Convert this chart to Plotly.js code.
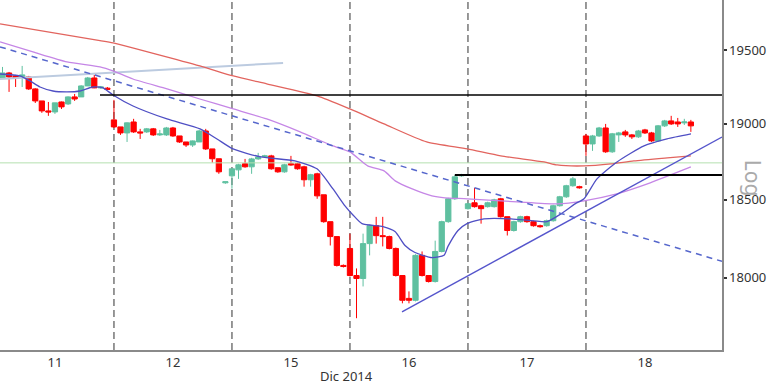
<!DOCTYPE html>
<html>
<head>
<meta charset="utf-8">
<script src="https://cdn.plot.ly/plotly-3.0.1.min.js"></script>
<style>html,body{margin:0;padding:0;background:#fff;}#chart{width:768px;height:384px;}</style>
</head>
<body>
<div id="chart"></div>
<script>
// ---- data (hourly bars, Dec 2014) ----
const openP = [
  19309,19343,19323,19316,19316,19235,19154,19087,19080,19147,19134,19181,19181,19255,19309,19242,19240,
  19027,18980,18940,19013,18947,18947,18967,18927,18927,18973,18920,18880,18860,18880,18953,18834,18769,18611,
  18657,18696,18736,18716,18768,18781,18788,18710,18683,18736,18736,18716,18631,18670,18533,18359,18263,18079,
  18187,18015,17996,18218,18333,18269,18263,18187,18015,17871,17859,18143,18015,17977,18168,18359,18507,18657,
  18443,18481,18462,18456,18456,18507,18391,18302,18359,18391,18359,18333,18333,18365,18462,18520,18592,18586,
  18920,18867,18920,18973,18815,18927,18947,18927,18914,18960,18940,18887,18987,19020,19013,19007,19013
];
const highP = [
  19384,19350,19330,19391,19323,19240,19154,19147,19141,19150,19185,19201,19260,19316,19330,19255,19248,
  19161,18980,19010,19034,18967,18973,18973,18960,18980,18980,18920,18880,18890,18960,18967,18834,18769,18618,
  18703,18736,18768,18775,18808,18795,18795,18710,18736,18788,18742,18723,18670,18677,18533,18359,18263,18085,
  18282,18060,18282,18340,18390,18390,18269,18193,18015,17915,18150,18168,18015,18237,18365,18513,18663,18670,
  18481,18578,18468,18488,18507,18513,18391,18365,18397,18397,18365,18340,18372,18468,18526,18598,18650,18592,
  18934,18927,18980,19000,18940,18947,18960,18933,18960,18967,18947,18993,19027,19054,19040,19034,19027
];
const lowP = [
  19302,19215,19248,19248,19228,19140,19074,19054,19067,19100,19127,19154,19181,19255,19240,19235,19228,
  18973,18927,18880,18940,18900,18940,18920,18920,18920,18914,18874,18847,18847,18880,18827,18743,18670,18605,
  18573,18637,18710,18670,18762,18775,18697,18677,18677,18723,18697,18586,18586,18507,18352,18206,18072,18066,
  18009,17747,17946,18143,18218,18200,18181,18009,17840,17840,17852,18009,17971,17971,18162,18352,18500,18650,
  18437,18450,18346,18450,18450,18385,18270,18295,18352,18352,18327,18320,18327,18359,18456,18513,18586,18573,
  18788,18821,18914,18808,18808,18880,18914,18900,18907,18933,18880,18880,18980,18993,18980,18993,18947
];
const closeP = [
  19343,19316,19309,19330,19235,19154,19087,19080,19141,19114,19181,19167,19255,19309,19242,19248,19232,
  18980,18940,19007,18947,18940,18967,18927,18933,18973,18920,18880,18860,18887,18953,18834,18769,18683,18618,
  18703,18729,18716,18768,18781,18788,18703,18683,18729,18729,18703,18631,18664,18526,18359,18263,18079,18072,
  18015,17996,18218,18333,18269,18263,18187,18015,17859,17859,18143,18015,17977,18168,18359,18507,18650,18663,
  18475,18456,18443,18481,18500,18391,18302,18359,18391,18359,18333,18327,18365,18462,18520,18592,18637,18579,
  18867,18920,18973,18815,18934,18940,18927,18914,18953,18940,18887,18987,19020,19000,19000,19013,18987
];

// day boundaries (bar index of each day's first bar) and labels
const dayStarts = [-1, 17, 35, 53, 71, 89];
const dayLabels = ['11', '12', '15', '16', '17', '18'];
const barsPerDay = 18;

// moving averages (bar index, price)
const slowMAx = [-0.38,14.87,16.86,30.1,35.2,40.3,48.0,53.0,58.2,64.7,70.9,76.0,82.6,84.6,88.7,92.8,96.3,101.4,105.0];
const slowMAy = [19679,19564,19548,19391,19323,19269,19188,19100,19000,18880,18834,18788,18748,18728,18722,18735,18755,18775,18788];
const midMAx = [-0.38,4.65,9.84,14.87,16.86,19.9,25.1,30.1,35.2,40.3,45.4,50.4,53.0,55.7,58.2,59.9,62.5,65.5,67.5,70.9,78.5,84.6,88.7,93.7,98.8,105.0];
const midMAy = [19555,19486,19418,19384,19357,19302,19235,19167,19100,19033,18947,18854,18814,18722,18689,18624,18571,18526,18513,18507,18487,18474,18494,18539,18611,18715];
const fastMAx = [-0.38,2.67,4.19,5.72,7.70,9.84,11.82,13.80,15.33,16.86,19.91,25.09,30.13,32.72,35.16,39.43,44.61,47.97,50.41,52.24,53.46,54.84,58.04,59.87,61.40,62.92,65.52,67.34,67.95,69.48,70.85,73.45,77.56,81.07,83.05,85.19,87.33,88.70,90.68,93.73,97.85,101.36,105.02];
const fastMAy = [19336,19323,19289,19248,19221,19215,19221,19248,19242,19194,19120,19033,18967,18900,18834,18781,18755,18703,18571,18461,18402,18346,18327,18295,18206,18161,18129,18143,18200,18302,18346,18377,18377,18364,18359,18409,18474,18507,18637,18748,18854,18900,18933];

// drawn levels / trend lines (bar index, price)
const xRange = [-0.381, 109.75];
const downTrendX = [-0.381, 109.75], downTrendY = [19521, 18105];
const upTrendX = [60.94, 109.75], upTrendY = [17787, 18913];
const greyLineX = [-0.381, 42.8], greyLineY = [19302, 19411];
const resist1X = [14.87, 109.75], resist1Y = [19194, 19194];
const resist2X = [69.0, 109.75], resist2Y = [18663, 18663];
const greenLevel = 18742;
const yTicks = [18000, 18500, 19000, 19500];

const idx = openP.map((_, i) => i);
const GREEN = '#5fc0a0', RED = '#ff0000';

const traces = [
  {type:'scatter', mode:'lines', x:xRange, y:[greenLevel, greenLevel], line:{color:'#b4e0b0', width:1}, hoverinfo:'skip'},
  {type:'scatter', mode:'lines', x:greyLineX, y:greyLineY, line:{color:'#bccbe0', width:2}, hoverinfo:'skip'},
  {type:'candlestick', x:idx, open:openP, high:highP, low:lowP, close:closeP, whiskerwidth:0,
   increasing:{line:{color:GREEN, width:1}, fillcolor:GREEN},
   decreasing:{line:{color:RED, width:1}, fillcolor:RED}, hoverinfo:'skip'},
  {type:'scatter', mode:'lines', x:slowMAx, y:slowMAy, line:{color:'#e2645e', width:1.3, shape:'spline', smoothing:0.6}, hoverinfo:'skip'},
  {type:'scatter', mode:'lines', x:midMAx, y:midMAy, line:{color:'#c586e6', width:1.3, shape:'spline', smoothing:0.6}, hoverinfo:'skip'},
  {type:'scatter', mode:'lines', x:fastMAx, y:fastMAy, line:{color:'#4f4fc4', width:1.3, shape:'spline', smoothing:0.6}, hoverinfo:'skip'},
  {type:'scatter', mode:'lines', x:downTrendX, y:downTrendY, line:{color:'#5566cc', width:1.5, dash:'6px,5px'}, hoverinfo:'skip'},
  {type:'scatter', mode:'lines', x:upTrendX, y:upTrendY, line:{color:'#5555cc', width:1.4}, hoverinfo:'skip'},
  {type:'scatter', mode:'lines', x:resist1X, y:resist1Y, line:{color:'#000000', width:1.3}, hoverinfo:'skip'},
  {type:'scatter', mode:'lines', x:resist2X, y:resist2Y, line:{color:'#000000', width:2}, hoverinfo:'skip'}
];

const shapes = dayStarts.slice(1).map(d => ({
  type:'line', xref:'x', yref:'paper', x0:d, x1:d, y0:0, y1:1, layer:'below',
  line:{color:'#777777', width:1.5, dash:'7px,4px'}
}));

const layout = {
  width:768, height:384,
  margin:{l:0, r:46, t:0, b:34, pad:0},
  paper_bgcolor:'#ffffff', plot_bgcolor:'#ffffff',
  showlegend:false, boxgap:0.2, boxgroupgap:0,
  font:{family:'Noto Sans, DejaVu Sans, sans-serif', color:'#333333', size:13},
  xaxis:{type:'linear', range:xRange, rangeslider:{visible:false}, showgrid:false, zeroline:false,
    showline:true, linecolor:'#8a8a8a', linewidth:1.5, ticks:'',
    tickmode:'array', tickvals:dayStarts.map(d => d + barsPerDay / 2), ticktext:dayLabels,
    tickfont:{size:13, color:'#333'}},
  yaxis:{type:'log', side:'right', range:[Math.log10(17550), Math.log10(19845)], showgrid:false, zeroline:false,
    showline:true, linecolor:'#8a8a8a', linewidth:1.5, ticks:'outside', ticklen:3, tickcolor:'#333', tickwidth:1.5,
    tickmode:'array', tickvals:yTicks, ticktext:yTicks.map(String), tickfont:{size:13, color:'#333'}},
  shapes:shapes,
  annotations:[
    {text:'Dic 2014', xref:'x', yref:'paper', x:52.5, y:-0.074, showarrow:false, xanchor:'center', yanchor:'middle',
     font:{size:13, color:'#333'}},
    {text:'Log', xref:'paper', yref:'paper', x:1.044, y:0.49, showarrow:false, textangle:90, xanchor:'center', yanchor:'middle',
     font:{size:21, color:'#aaaaaa'}}
  ]
};

Plotly.newPlot('chart', traces, layout, {staticPlot:true, displayModeBar:false});
</script>
</body>
</html>
